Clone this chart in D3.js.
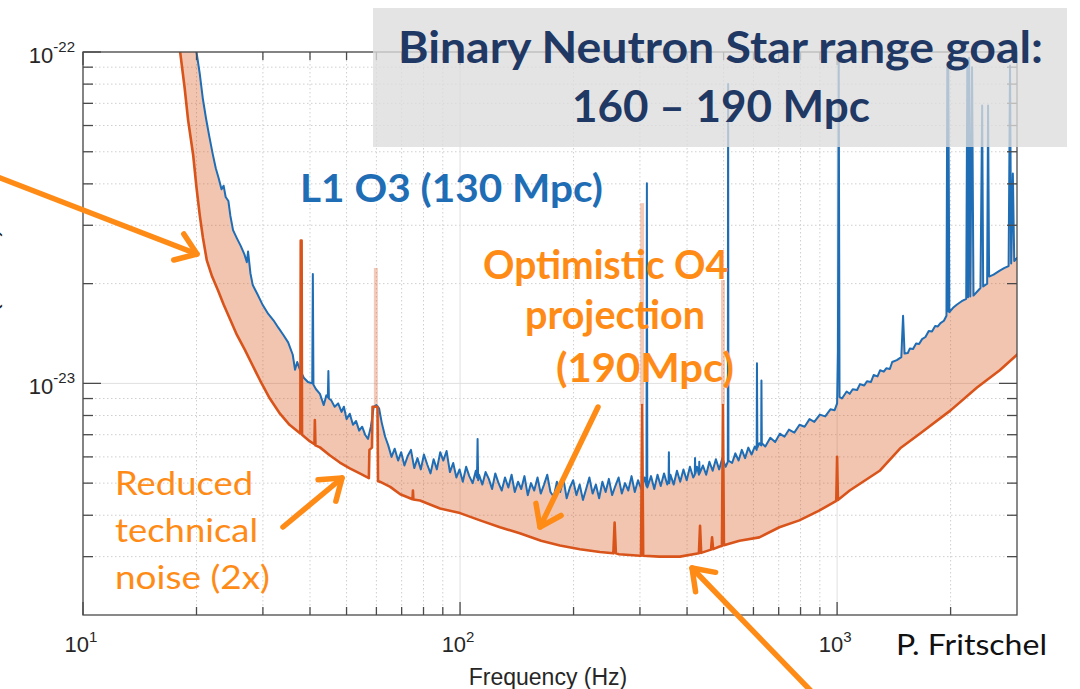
<!DOCTYPE html>
<html>
<head>
<meta charset="utf-8">
<script src="https://cdn.jsdelivr.net/npm/d3@7"></script>
<style>
  body { margin: 0; background: #fff; }
  svg { display: block; }
</style>
</head>
<body>
<svg id="chart" width="1080" height="689"></svg>
<script>
// Amplitude spectral densities, [frequency in Hz, strain in units of 1e-24 /sqrt(Hz)]
const o3Curve = [
  [19.8,112],[20.0,100],[20.4,86],[20.8,72],[21.2,63],[21.6,56],[22.1,49],[22.5,44.6],[22.9,41.6],
  [23.3,38.5],[23.6,39.5],[23.9,36.5],[24.3,35.5],[24.6,32],[25.0,29],[25.6,27.4],[26.2,26],[26.8,24.5],
  [27.2,23.2],[27.4,25.0],[27.8,21.5],[28.2,19.8],[29.0,18.6],[30,17.2],[31,16.2],[32,15.5],[33,14.7],
  [34,14.0],[35,13.3],[36,12.2],[36.5,11.0],[37,11.6],[37.5,11.1],[38.5,10.4],[39.5,10.1],[40.55,10.0],
  [40.7,21.4],[40.85,9.9],[41.5,9.6],[42.5,9.3],[43.5,8.6],[44.2,9.2],[44.6,9.1],[44.75,10.9],[44.9,9.0],
  [45.5,8.9],[46.5,8.5],[47.5,8.7],[48.5,8.2],[49.2,8.5],[50,7.8],[51,8.1],[52,7.5],[53,7.7],[54,7.2],
  [55,7.4],[56,7.0],[57,6.8],[58,7.4],[58.5,7.9],[59,8.5],[60,8.6],[61,8.4],[62,7.6],[63.3,6.9],[64.5,6.5],
  [65.8,6.0],[67.1,6.35],[68.5,5.85],[69.8,6.2],[71.2,5.65],[72.7,6.05],[74.1,6.3],[75.6,5.55],[77.1,5.95],
  [78.7,5.5],[80.2,6.1],[81.8,5.7],[83.5,5.35],[85.1,5.9],[86.8,5.5],[88.6,6.2],[90.3,5.85],[92.1,6.25],
  [94,5.4],[95.9,5.75],[97.8,5.2],[99.7,5.5],[101.7,5.05],[103.8,5.6],[105.8,5.25],[108,5.0],[110.1,5.45],
  [110.9,5.2],[111.3,6.8],[111.7,5.1],[112.3,5.3],[114.6,4.95],[116.9,5.4],[119.2,5.15],[121.6,4.8],
  [124,5.35],[126.5,5.0],[129,4.75],[131.6,5.2],[134.3,4.85],[137,5.3],[139.7,4.7],[142.5,5.05],[145.3,4.8],
  [148.2,5.25],[151.2,4.6],[154.2,5.0],[157.3,4.75],[160.5,5.2],[163.7,4.65],[167,4.95],[170.3,5.3],
  [173.7,4.7],[177.2,4.55],[180.7,5.05],[184.3,4.7],[188,5.15],[191.8,4.5],[195.6,4.85],[199.5,5.1],
  [203.5,4.6],[207.6,4.95],[211.8,4.45],[216,4.8],[220.3,5.2],[224.7,4.65],[229.2,4.95],[233.8,4.5],
  [238.5,5.05],[243.3,4.7],[248.1,5.15],[253.1,4.6],[258.1,4.9],[263.3,5.2],[268.6,4.65],[273.9,5.0],
  [279.4,4.75],[285,5.25],[290.7,4.7],[296.5,5.1],[302.5,4.8],[308.5,5.2],[312.2,4.9],[313,40.2],
  [313.8,4.85],[321,5.25],[327.4,4.8],[334,5.3],[340.6,4.9],[347.5,5.35],[354.4,4.95],[357.3,5.1],
  [358,6.2],[358.7,5.0],[361.5,5.3],[368.7,4.95],[376.1,5.45],[383.6,5.05],[391.3,5.5],[399.1,5.1],
  [407.1,5.6],[415.3,5.2],[419.2,5.3],[420,5.95],[420.8,5.35],[425,5.6],[430.2,5.3],[431,5.8],[431.8,5.35],
  [440.7,5.65],[449.5,5.3],[458.5,5.8],[467.7,5.45],[477,5.9],[486.6,5.5],[496.3,5.95],[506.2,5.6],
  [513,5.8],[514,80],[515,5.85],[526.7,5.75],[537.2,6.15],[548,5.85],[558.9,6.3],[570.1,5.95],[581.5,6.4],
  [593.2,6.1],[605,6.45],[612,6.3],[613,11.5],[614.5,6.4],[622,6.6],[629,6.5],[630,10.2],[631.5,6.6],
  [645,6.45],[665,6.85],[685,6.65],[705,7.05],[725,6.9],[745,7.25],[770,7.1],[795,7.5],[820,7.4],
  [845,7.8],[870,7.65],[900,8.05],[930,7.95],[960,8.35],[985,8.3],[1000,8.7],[1005,12.5],[1010,93],
  [1015,9.1],[1030,9.0],[1060,9.45],[1080,9.3],[1100,9.6],[1130,9.55],[1150,9.95],[1180,9.85],[1200,10.15],
  [1230,10.1],[1250,10.6],[1280,10.5],[1300,10.95],[1330,10.85],[1350,11.1],[1380,11.05],[1400,11.6],
  [1440,11.75],[1480,12.0],[1496,16.0],[1510,12.3],[1540,12.35],[1560,12.75],[1590,12.7],[1620,13.2],
  [1650,13.15],[1680,13.6],[1715,13.8],[1750,14.4],[1785,14.35],[1820,14.9],[1850,14.85],[1880,15.2],
  [1920,15.45],[1950,16.0],[1960,90],[1966,16.5],[1972,92],[1985,16.4],[2030,16.9],[2080,17.3],
  [2140,17.7],[2200,18.0],[2215,95],[2225,18.2],[2240,96],[2255,18.3],[2280,90],[2300,18.4],[2350,18.9],
  [2400,19.4],[2425,69],[2440,19.6],[2500,20.0],[2514,69],[2530,21.0],[2600,21.3],[2700,21.9],[2780,22.3],
  [2850,22.6],[2875,91],[2895,23.0],[2925,43],[2950,23.4],[3000,23.9],[3100,24.3]
];

const o4Curve = [
  [17.8,112],[18.1,100],[18.6,78],[19.0,62.3],[19.6,48.8],[20.0,39],[20.4,32.2],[20.8,27.5],[21.3,23.5],
  [22.0,21.0],[22.8,19.1],[23.6,17.3],[24.5,15.7],[25.6,14.0],[26.9,12.6],[28.2,11.3],[29.5,10.2],
  [31.3,9.0],[33.3,8.1],[35.3,7.5],[37.7,7.06],[37.8,27],[38.0,27],[38.1,7.0],[40.0,6.68],[41.1,6.55],
  [41.2,7.75],[41.35,6.5],[42.5,6.41],[45.2,6.06],[48,5.77],[51,5.54],[54.2,5.35],[57.3,5.18],[57.5,6.3],
  [58.4,6.4],[58.6,8.5],[60.4,8.5],[60.6,5.07],[61.3,5.05],[65.3,4.87],[69.4,4.63],[74.8,4.47],[75,4.75],
  [75.2,4.46],[78.3,4.43],[88.5,4.19],[100,4.06],[113,3.86],[127.6,3.68],[144,3.53],[164,3.35],[184,3.24],
  [208,3.16],[235,3.10],[255,3.07],[257,3.8],[259,3.07],[264,3.05],[300,3.02],[302,3.02],[304,8.6],
  [306,3.02],[338,3.00],[383,3.00],[430,3.07],[433,3.72],[436,3.08],[463,3.15],[466,3.43],[469,3.16],
  [488,3.22],[495,3.23],[498,8.6],[501,3.25],[551,3.35],[622,3.43],[703,3.68],[794,3.86],[896,4.13],
  [995,4.42],[1000,6.0],[1005,4.45],[1080,4.75],[1300,5.46],[1470,6.37],[1660,7.06],[2000,8.29],
  [2350,9.72],[2700,10.95],[3000,12.2],[3100,12.7]
];

// Narrow lines where the shaded band reaches above the projection: [Hz, top, bottom] (1e-24 units)
const bandSpikes = [[59.8, 22.3, 8.5], [304, 35, 8.6], [498, 20.5, 8.6]];

const UNIT = 1e-24;
const xMajorTicks = [10, 100, 1000];
const xMajorLabels = ["1", "2", "3"];
const xMinorTicks = [20,30,40,50,60,70,80,90,200,300,400,500,600,700,800,900,2000];
const yMajorTicks = [1e-23, 1e-22];
const yMajorLabels = ["-23", "-22"];
const yMinorTicks = [3e-24,4e-24,5e-24,6e-24,7e-24,8e-24,9e-24,2e-23,3e-23,4e-23,5e-23,6e-23,7e-23,8e-23,9e-23];

const plot = { left: 83, right: 1017, top: 52, bottom: 615 };
const x = d3.scaleLog().domain([10, 3000]).range([plot.left, plot.right]);
const y = d3.scaleLog().domain([2e-24, 1e-22]).range([plot.bottom, plot.top]);

const BLUE = "#1f6db5", RED = "#d9541a", ORANGE = "#ff8b17", AXIS = "#4a4a4a";
const svg = d3.select("#chart");

svg.append("defs").append("clipPath").attr("id", "plotClip")
  .append("rect").attr("x", plot.left).attr("y", plot.top)
  .attr("width", plot.right - plot.left).attr("height", plot.bottom - plot.top);

// grid
const grid = svg.append("g");
grid.selectAll(".gx").data(xMinorTicks).join("line")
  .attr("x1", d => x(d)).attr("x2", d => x(d)).attr("y1", plot.top).attr("y2", plot.bottom)
  .attr("stroke", "#cfcfcf").attr("stroke-dasharray", "1.5,2.5");
grid.selectAll(".gy").data(yMinorTicks).join("line")
  .attr("y1", d => y(d)).attr("y2", d => y(d)).attr("x1", plot.left).attr("x2", plot.right)
  .attr("stroke", "#cfcfcf").attr("stroke-dasharray", "1.5,2.5");
grid.selectAll(".gX").data(xMajorTicks).join("line")
  .attr("x1", d => x(d)).attr("x2", d => x(d)).attr("y1", plot.top).attr("y2", plot.bottom)
  .attr("stroke", "#e0e0e0");
grid.selectAll(".gY").data(yMajorTicks).join("line")
  .attr("y1", d => y(d)).attr("y2", d => y(d)).attr("x1", plot.left).attr("x2", plot.right)
  .attr("stroke", "#e0e0e0");

// curves
const curves = svg.append("g").attr("clip-path", "url(#plotClip)");
const line = d3.line().x(d => x(d[0])).y(d => y(d[1] * UNIT));
const band = o3Curve.concat(o4Curve.slice().reverse());
curves.append("path").attr("d", line(band) + "Z")
  .attr("fill", RED).attr("fill-opacity", 0.34).attr("stroke", "none");
curves.selectAll(".spike").data(bandSpikes).join("rect")
  .attr("x", d => x(d[0]) - 2).attr("width", 4)
  .attr("y", d => y(d[1] * UNIT)).attr("height", d => y(d[2] * UNIT) - y(d[1] * UNIT))
  .attr("fill", RED).attr("fill-opacity", 0.3);
curves.append("path").attr("d", line(o3Curve))
  .attr("fill", "none").attr("stroke", BLUE).attr("stroke-width", 2).attr("stroke-linejoin", "round");
curves.append("path").attr("d", line(o4Curve))
  .attr("fill", "none").attr("stroke", RED).attr("stroke-width", 2.6).attr("stroke-linejoin", "round");

// axes box with inward ticks
const axes = svg.append("g").attr("stroke", AXIS).attr("stroke-width", 1.3);
axes.append("rect").attr("x", plot.left).attr("y", plot.top)
  .attr("width", plot.right - plot.left).attr("height", plot.bottom - plot.top).attr("fill", "none");
function xTicks(vals, len) {
  axes.selectAll(null).data(vals).join("line")
    .attr("x1", d => x(d)).attr("x2", d => x(d)).attr("y1", plot.bottom).attr("y2", plot.bottom - len);
  axes.selectAll(null).data(vals).join("line")
    .attr("x1", d => x(d)).attr("x2", d => x(d)).attr("y1", plot.top).attr("y2", plot.top + len);
}
function yTicks(vals, len) {
  axes.selectAll(null).data(vals).join("line")
    .attr("y1", d => y(d)).attr("y2", d => y(d)).attr("x1", plot.left).attr("x2", plot.left + len);
  axes.selectAll(null).data(vals).join("line")
    .attr("y1", d => y(d)).attr("y2", d => y(d)).attr("x1", plot.right).attr("x2", plot.right - len);
}
xTicks(xMajorTicks, 13); xTicks(xMinorTicks, 8);
yTicks(yMajorTicks, 18); yTicks(yMinorTicks, 10);

// tick labels as powers of ten
const tickFont = "'Liberation Sans', Arial, sans-serif";
const xl = svg.append("g").attr("font-family", tickFont).attr("fill", "#262626");
xMajorTicks.forEach((v, i) => {
  const t = xl.append("text").attr("x", x(v) - 2).attr("y", plot.bottom + 37)
    .attr("text-anchor", "middle").attr("font-size", 22);
  t.append("tspan").text("10");
  t.append("tspan").attr("dy", -10).attr("font-size", 15).text(xMajorLabels[i]);
});
yMajorTicks.forEach((v, i) => {
  const t = xl.append("text").attr("x", plot.left - 8).attr("y", y(v) + 11)
    .attr("text-anchor", "end").attr("font-size", 22);
  t.append("tspan").text("10");
  t.append("tspan").attr("dy", -11).attr("font-size", 15).text(yMajorLabels[i]);
});
xl.append("text").attr("x", (plot.left + plot.right) / 2 - 2).attr("y", 685)
  .attr("text-anchor", "middle").attr("font-size", 23).text("Frequency (Hz)");
xl.append("text").attr("transform", "translate(-3,228) rotate(-90)")
  .attr("text-anchor", "end").attr("font-size", 26).text("Strain (1/√Hz)");

// title panel
svg.append("rect").attr("x", 373).attr("y", 8).attr("width", 694).attr("height", 139)
  .attr("fill", "rgb(220,220,220)").attr("fill-opacity", 0.78);
const ann = svg.append("g").attr("font-family", "Lato, 'Open Sans', sans-serif");
function label(txt, x0, y0, len, size, weight, color) {
  ann.append("text").attr("x", x0).attr("y", y0).attr("font-size", size)
    .attr("font-weight", weight).attr("fill", color)
    .attr("textLength", len).attr("lengthAdjust", "spacingAndGlyphs").text(txt);
}
label("Binary Neutron Star range goal:", 398, 63, 645, 43, 700, "#1f3864");
label("160 – 190 Mpc", 572, 122, 298, 43, 700, "#1f3864");
label("L1 O3 (130 Mpc)", 300, 202, 303, 38, 700, BLUE);
label("Optimistic O4", 483, 279, 245, 41, 700, ORANGE);
label("projection", 525, 329, 180, 41, 700, ORANGE);
label("(190Mpc)", 556, 382, 178, 41, 700, ORANGE);
label("Reduced", 115, 495, 138, 32, 400, ORANGE);
label("technical", 115, 542, 143, 32, 400, ORANGE);
label("noise (2x)", 115, 589, 155, 32, 400, ORANGE);
label("P. Fritschel", 896, 655, 151, 28, 400, "#111");

// pointer arrows
const arrows = [
  { from: [-10, 174], to: [197, 254] },
  { from: [283, 527], to: [342, 478] },
  { from: [598, 407], to: [540, 527] },
  { from: [812, 692], to: [692, 568] }
];
const ag = svg.append("g").attr("stroke", ORANGE).attr("stroke-width", 5.5)
  .attr("fill", "none").attr("stroke-linecap", "round").attr("stroke-linejoin", "round");
arrows.forEach(a => {
  const [x0, y0] = a.from, [x1, y1] = a.to;
  const ang = Math.atan2(y1 - y0, x1 - x0), L = 24, spread = 0.62;
  ag.append("line").attr("x1", x0).attr("y1", y0).attr("x2", x1).attr("y2", y1);
  const p = d3.path();
  p.moveTo(x1 - L * Math.cos(ang - spread), y1 - L * Math.sin(ang - spread));
  p.lineTo(x1, y1);
  p.lineTo(x1 - L * Math.cos(ang + spread), y1 - L * Math.sin(ang + spread));
  ag.append("path").attr("d", p.toString());
});
</script>
</body>
</html>
